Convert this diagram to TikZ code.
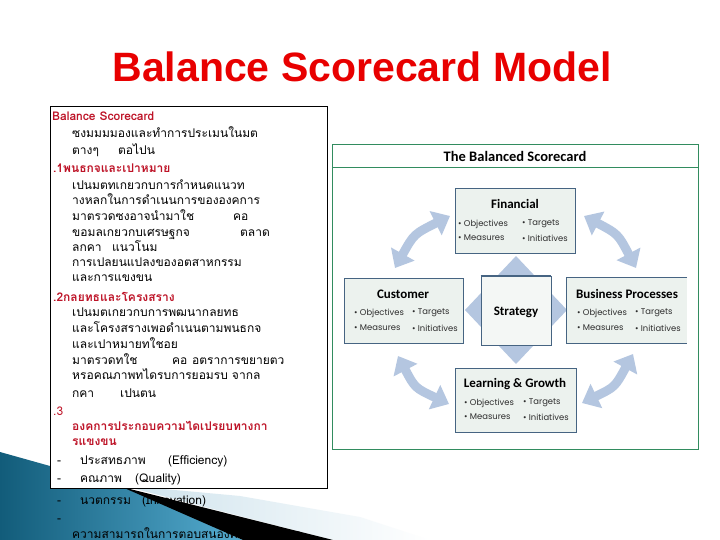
\documentclass[tikz,border=0pt]{standalone}
\usepackage{fontspec}
\usetikzlibrary{arrows.meta}
\newfontfamily\thai[Script=Thai]{Loma}
\newfontfamily\titlef{Liberation Sans}
\newfontfamily\cardf{Carlito}
\newfontfamily\bulf{Poppins}
\definecolor{titlered}{RGB}{232,0,0}
\definecolor{hdrred}{RGB}{190,20,40}
\definecolor{framegreen}{RGB}{50,140,95}
\definecolor{boxfill}{RGB}{236,242,238}
\definecolor{boxborder}{RGB}{70,100,130}
\definecolor{arrowblue}{RGB}{180,198,224}
\definecolor{tealdark}{RGB}{18,92,122}
\definecolor{teallight}{RGB}{85,172,208}
\definecolor{palebl}{RGB}{205,226,236}
\definecolor{bultext}{RGB}{45,45,45}
\tikzset{
  thl/.style={anchor=west, inner sep=0pt, text height=8pt, text depth=3pt, font=\thai\fontsize{12}{14}\selectfont},
  hdr/.style={thl, text=hdrred, font=\thai\bfseries\fontsize{12}{14}\selectfont},
  hdrn/.style={thl, text=hdrred},
  cbox/.style={draw=boxborder, fill=boxfill, line width=0.8pt, inner sep=0pt},
  chead/.style={inner sep=0pt, font=\cardf\bfseries\fontsize{13}{14}\selectfont},
  bul/.style={anchor=west, inner sep=0pt, text=bultext, font=\bulf\fontsize{8.4}{9}\selectfont},
  dbl/.style={draw=arrowblue, line width=9pt, {Triangle[width=26pt,length=16pt]}-{Triangle[width=26pt,length=16pt]}}
}
\begin{document}
\begin{tikzpicture}[x=1pt,y=-1pt]
\useasboundingbox (0,0) rectangle (720,540);
\fill[white] (0,0) rectangle (720,540);
% background swoosh
\shade[left color=palebl, right color=white] (120,485) -- (240,496) -- (360,517) -- (430,540) -- (333,540) -- cycle;
\shade[left color=tealdark, right color=teallight] (0,452) -- (125,487) -- (243,540) -- (0,540) -- cycle;
\fill[black] (122,487) -- (333,540) -- (243,540) -- cycle;
% title
\node[inner sep=0pt, anchor=base, text=titlered, font=\titlef\bfseries\fontsize{41}{44}\selectfont] (title) at (362,82) {Balance Scorecard Model};
% left text box
\node[draw=black, fill=white, line width=0.8pt, minimum width=277pt, minimum height=382pt, inner sep=0pt, anchor=north west] (tbox) at (50,106) {};
\node[hdr] (t1) at (52,118) {Balance Scorecard};
\node[thl] (t2) at (72,135) {ซงมมมมองและทำการประเมนในมต};
\node[thl] (t3a) at (72,152) {ตางๆ};
\node[thl] (t3b) at (118,152) {ตอไปน};
\node[hdr] (t4) at (53,170) {.1พนธกจและเปาหมาย};
\node[thl] (t5) at (72,187) {เปนมตทเกยวกบการกำหนดแนวท};
\node[thl] (t6) at (72,202) {างหลกในการดำเนนการขององคการ};
\node[thl] (t7a) at (72,218) {มาตรวดซงอาจนำมาใช};
\node[thl] (t7b) at (233,218) {คอ};
\node[thl] (t8a) at (72,234) {ขอมลเกยวกบเศรษฐกจ};
\node[thl] (t8b) at (240,234) {ตลาด};
\node[thl] (t9a) at (72,249) {ลกคา};
\node[thl] (t9b) at (112,249) {แนวโนม};
\node[thl] (t10) at (72,264) {การเปลยนแปลงของอตสาหกรรม};
\node[thl] (t11) at (72,279) {และการแขงขน};
\node[hdr] (t12) at (53,299) {.2กลยทธและโครงสราง};
\node[thl] (t13) at (72,314) {เปนมตเกยวกบการพฒนากลยทธ};
\node[thl] (t14) at (72,330) {และโครงสรางเพอดำเนนตามพนธกจ};
\node[thl] (t15) at (72,346) {และเปาหมายทใชอย};
\node[thl] (t16a) at (72,362) {มาตรวดทใช};
\node[thl] (t16b) at (172,362) {คอ};
\node[thl] (t16c) at (192,362) {อตราการขยายตว};
\node[thl] (t17) at (72,377) {หรอคณภาพทไดรบการยอมรบ จากล};
\node[thl] (t18a) at (72,395) {กคา};
\node[thl] (t18b) at (120,395) {เปนตน};
\node[hdrn] (t19) at (53,413) {.3};
\node[hdr] (t20) at (72,428) {องคการประกอบความไดเปรยบทางกา};
\node[hdr] (t21) at (72,443) {รแขงขน};
\node[thl] (t22a) at (57,462) {-};
\node[thl] (t22b) at (80,462) {ประสทธภาพ};
\node[thl] (t22c) at (168,462) {(Efficiency)};
\node[thl] (t23a) at (57,480) {-};
\node[thl] (t23b) at (80,480) {คณภาพ};
\node[thl] (t23c) at (135,480) {(Quality)};
\node[thl] (t24a) at (57,502) {-};
\node[thl] (t24b) at (80,502) {นวตกรรม};
\node[thl] (t24c) at (142,502) {(Innovation)};
\node[thl] (t25) at (57,520) {-};
\node[thl] (t26) at (72,536) {ความสามารถในการตอบสนองความตองการ};
% right figure
\node[draw=framegreen, line width=1pt, minimum width=366pt, minimum height=305pt, inner sep=0pt, anchor=north west] (frame) at (332,144) {};
\coordinate (hl) at (332,168);
\coordinate (hr) at (698,168);
\draw[framegreen, line width=1pt] (hl) -- (hr);
\node[inner sep=0pt, font=\cardf\bfseries\fontsize{14.5}{15}\selectfont] (bsc) at (515,156) {The Balanced Scorecard};
% diamond
\fill[arrowblue] (516,256) -- (567,310) -- (516,364) -- (465,310) -- cycle;
% arrows
\coordinate (a1s) at (395,268); \coordinate (a1c) at (414,234); \coordinate (a1e) at (450,216);
\coordinate (a2s) at (584,216); \coordinate (a2c) at (618,234); \coordinate (a2e) at (636,268);
\coordinate (a3s) at (398,356); \coordinate (a3c) at (415,388); \coordinate (a3e) at (449,404);
\coordinate (a4s) at (582,403); \coordinate (a4c) at (615,387); \coordinate (a4e) at (633,354);
\draw[dbl] (a1s) .. controls (a1c) .. (a1e);
\draw[dbl] (a2s) .. controls (a2c) .. (a2e);
\draw[dbl] (a3s) .. controls (a3c) .. (a3e);
\draw[dbl] (a4s) .. controls (a4c) .. (a4e);
% boxes
\node[cbox, minimum width=120pt, minimum height=65pt] (fin) at (515,220.5) {};
\node[cbox, minimum width=119pt, minimum height=65pt] (cust) at (403.5,310.5) {};
\node[cbox, minimum width=70pt, minimum height=69pt, fill=boxfill!60!white] (strat) at (516,310.5) {};
\draw[boxborder, line width=1.6pt] (strat.north west) -- (strat.north east);
\node[fill=boxfill, inner sep=0pt, minimum width=120pt, minimum height=65pt] (bus) at (627,310.5) {};
\draw[boxborder, line width=0.8pt] (bus.north east) -- (bus.north west) -- (bus.south west) -- (bus.south east);
\node[cbox, minimum width=121pt, minimum height=64pt] (lg) at (515.5,400) {};
% texts
\node[chead] (finh) at (515,204) {Financial};
\node[bul] (fb1) at (458,224) {• Objectives};
\node[bul] (fb2) at (522,224) {• Targets};
\node[bul] (fb3) at (458,238) {• Measures};
\node[bul] (fb4) at (522,238) {• Initiatives};
\node[chead] (custh) at (403,294) {Customer};
\node[bul] (cb1) at (354,313) {• Objectives};
\node[bul] (cb2) at (412,313) {• Targets};
\node[bul] (cb3) at (354,328) {• Measures};
\node[bul] (cb4) at (412,328) {• Initiatives};
\node[chead] (strh) at (516,312) {Strategy};
\node[chead] (bush) at (627,294) {Business Processes};
\node[bul] (bb1) at (577,313) {• Objectives};
\node[bul] (bb2) at (635,313) {• Targets};
\node[bul] (bb3) at (577,328) {• Measures};
\node[bul] (bb4) at (635,328) {• Initiatives};
\node[chead] (lgh) at (515,384) {Learning \& Growth};
\node[bul] (lb1) at (464,403) {• Objectives};
\node[bul] (lb2) at (523,403) {• Targets};
\node[bul] (lb3) at (464,417) {• Measures};
\node[bul] (lb4) at (523,417) {• Initiatives};
\end{tikzpicture}
\end{document}
